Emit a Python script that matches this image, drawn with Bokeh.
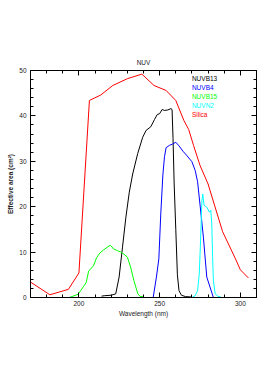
from bokeh.plotting import figure
from bokeh.models import SingleIntervalTicker, LinearAxis, ColumnDataSource, CustomJSTickFormatter
from bokeh.core.properties import value
from bokeh.embed import file_html
from bokeh.resources import INLINE

# ---- data ----
silica_wl = [170, 182, 193.5, 200, 206.5, 213.5, 221, 230, 239, 246.5, 254, 260, 265, 268, 271, 275, 280, 289, 297, 300, 305]
silica_ea = [3.4, 0.6, 1.8, 5.4, 43.4, 44.6, 46.7, 48.2, 49.2, 46.7, 45.6, 43.4, 39.0, 37.0, 33.5, 29.1, 25.0, 14.5, 8.5, 6.1, 4.3]

b13_wl = [214, 216, 220, 222.8, 224.9, 227, 229.1, 231.2, 233.3, 236.4, 239.5, 241.6, 244.5, 246.8, 248.5, 250, 251.5, 253, 255, 257, 257.7, 258.3, 259, 260, 261, 262, 263.5, 266, 270]
b13_ea = [0.3, 0.4, 0.5, 0.8, 4.5, 11.1, 17.7, 23.2, 27.2, 31.7, 35.3, 36.8, 37.6, 39.2, 40.3, 40.5, 41.4, 41.2, 41.3, 41.6, 41.4, 35, 25, 15, 5, 1.5, 0.5, 0.2, 0.1]

b4_wl = [246, 248, 249.5, 250.7, 252, 253, 254, 256, 258, 260, 262, 264.5, 267, 270, 272, 273.5, 275.3, 277.1, 279.2, 281.2, 283.3]
b4_ea = [0, 4.5, 8.5, 18.4, 27, 31, 33, 33.5, 33.8, 34.2, 33.4, 32.2, 31.2, 29.9, 28, 25.5, 19.5, 13.3, 4.5, 2.3, 0]

b15_wl = [194, 199.5, 201, 203, 204.5, 206, 209, 211, 213, 215, 218, 219.5, 221.5, 224, 226, 228, 230, 232, 234, 236.5, 238, 240]
b15_ea = [0, 0.7, 1.5, 2.5, 3.3, 5.8, 7, 8.8, 9.8, 10.4, 11.2, 11.5, 10.7, 10.3, 10, 9.5, 8.9, 6.7, 3.8, 0.8, 0.2, 0.2]

n2_wl = [270, 272, 273.5, 274.5, 275.2, 276.2, 276.7, 277.5, 279.2, 280.8, 281.7, 282.3, 282.8, 283.3, 284.4, 286, 288.5]
n2_ea = [0, 0.4, 1.5, 5, 11, 21.4, 22.8, 20.3, 19.9, 18.8, 19.2, 16.2, 9, 3.7, 0.8, 0.3, 0]

series_names = ["NUVB13", "NUVB4", "NUVB15", "NUVN2", "Silica"]
series_colors = ["black", "blue", "#00ff00", "cyan", "red"]
series_data = [(b13_wl, b13_ea), (b4_wl, b4_ea), (b15_wl, b15_ea), (n2_wl, n2_ea), (silica_wl, silica_ea)]

FONT = "Liberation Sans"
FS = "6.5px"

p = figure(width=262, height=374, x_range=(170, 310), y_range=(0, 50),
           output_backend="svg", toolbar_location=None, title="NUV",
           min_border_left=30, min_border_right=6, min_border_top=70, min_border_bottom=77)

p.title.align = "center"
p.title.text_font = FONT
p.title.text_font_size = FS
p.title.text_font_style = "normal"
p.title.text_color = "#222222"
p.title.standoff = 9
p.xgrid.visible = False
p.ygrid.visible = False
p.outline_line_color = "black"
p.outline_line_width = 1
p.background_fill_color = "white"
p.border_fill_color = "white"

def style_axis(ax, interval, labels=True):
    ax.ticker = SingleIntervalTicker(interval=interval, num_minor_ticks=5)
    ax.major_tick_in = 5
    ax.major_tick_out = 0
    ax.minor_tick_in = 3
    ax.minor_tick_out = 0
    ax.axis_line_color = "black"
    ax.major_tick_line_color = "black"
    ax.minor_tick_line_color = "black"
    ax.major_label_text_font = FONT
    ax.major_label_text_color = "#222222"
    ax.major_label_text_font_size = FS
    if not labels:
        ax.formatter = CustomJSTickFormatter(code="return ''")
        ax.major_label_text_font_size = "1px"
        ax.major_label_standoff = 0

style_axis(p.xaxis[0], 50)
style_axis(p.yaxis[0], 10)
p.xaxis.major_label_standoff = 3
p.yaxis.major_label_standoff = 4
p.xaxis.axis_label = "Wavelength (nm)"
p.yaxis.axis_label = "Effective area (cm²)"
for ax in (p.xaxis[0], p.yaxis[0]):
    ax.axis_label_text_font = FONT
    ax.axis_label_text_font_size = FS
    ax.axis_label_text_color = "#222222"
p.xaxis.axis_label_text_font_style = "normal"
p.yaxis.axis_label_text_font_style = "bold"
p.xaxis.axis_label_standoff = 1
p.yaxis.axis_label_standoff = 2

top = LinearAxis()
style_axis(top, 50, labels=False)
p.add_layout(top, "above")
right = LinearAxis()
style_axis(right, 10, labels=False)
p.add_layout(right, "right")

for (wl, ea), c in zip(series_data, series_colors):
    p.line(wl, ea, line_color=c, line_width=1)

# text-only legend
leg_x = 270
leg_y0 = 48.2
leg_step = 2.0
leg = ColumnDataSource(dict(
    x=[leg_x] * len(series_names),
    y=[leg_y0 - i * leg_step for i in range(len(series_names))],
    text=series_names,
    color=series_colors,
))
p.text(x="x", y="y", text="text", text_color="color", source=leg,
       text_font=value(FONT), text_font_size=value(FS), text_baseline="middle")

open("out.html", "w").write(file_html(p, INLINE))
